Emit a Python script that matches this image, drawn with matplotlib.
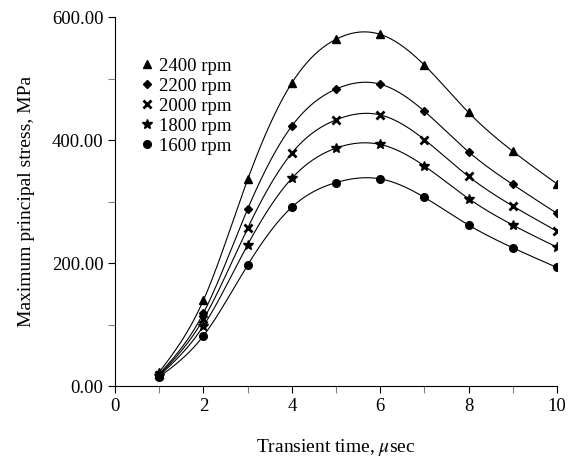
import matplotlib.pyplot as plt
import numpy as np
from matplotlib.lines import Line2D

plt.rcParams['font.family'] = ['Liberation Serif', 'DejaVu Serif']
plt.rcParams['mathtext.fontset'] = 'stix'

# data
t = [1, 2, 3, 4, 5, 6, 7, 8, 9, 10]
s2400 = [23, 140, 336, 493, 564, 572, 522, 445, 382, 329]
s2200 = [20, 119, 288, 423, 483, 491, 447, 381, 328, 281]
s2000 = [18, 109, 257, 379, 433, 441, 401, 341, 293, 252]
s1800 = [17, 98, 230, 338, 387, 393, 358, 305, 262, 226]
s1600 = [15, 82, 197, 291, 331, 337, 307, 262, 225, 193]
labels = ['2400 rpm', '2200 rpm', '2000 rpm', '1800 rpm', '1600 rpm']
markers = ['^', 'D', 'x', '*', 'o']
msizes = [5.5, 4.5, 5.5, 7.5, 5.5]


def natural_spline(x, y, xs):
    # plain natural cubic spline for drawing the smooth line
    x = np.asarray(x, float)
    y = np.asarray(y, float)
    n = len(x)
    h = np.diff(x)
    A = np.zeros((n, n))
    b = np.zeros(n)
    A[0, 0] = A[-1, -1] = 1
    for i in range(1, n - 1):
        A[i, i - 1] = h[i - 1]
        A[i, i] = 2 * (h[i - 1] + h[i])
        A[i, i + 1] = h[i]
        b[i] = 6 * ((y[i + 1] - y[i]) / h[i] - (y[i] - y[i - 1]) / h[i - 1])
    m = np.linalg.solve(A, b)
    k = np.clip(np.searchsorted(x, xs) - 1, 0, n - 2)
    dx = xs - x[k]
    hk = h[k]
    a = (m[k + 1] - m[k]) / (6 * hk)
    c = (y[k + 1] - y[k]) / hk - hk * (2 * m[k] + m[k + 1]) / 6
    return y[k] + c * dx + m[k] / 2 * dx ** 2 + a * dx ** 3


fig = plt.figure(figsize=(5.7, 4.63), dpi=100)
ax = fig.add_axes([0.202, 0.166, 0.775, 0.797])

xs = np.linspace(1, 10, 300)
for ys, mk, ms in zip([s2400, s2200, s2000, s1800, s1600], markers, msizes):
    ax.plot(xs, natural_spline(t, ys, xs), color='black', lw=0.8)
    ax.plot(t, ys, linestyle='none', marker=mk, color='black', ms=ms,
            mew=2 if mk == 'x' else 1)

ax.set_xlim(0, 10)
ax.set_ylim(0, 600)
ax.set_xticks([0, 2, 4, 6, 8, 10])
ax.set_xticks([1, 3, 5, 7, 9], minor=True)
ax.set_yticks([0, 200, 400, 600])
ax.set_yticks([100, 300, 500], minor=True)
ax.set_yticklabels(['0.00', '200.00', '400.00', '600.00'])
ax.tick_params(which='both', direction='out', labelsize=13.5, width=0.8)
ax.tick_params(which='major', length=5)
ax.tick_params(which='minor', length=5, color='gray')
ax.spines['top'].set_visible(False)
ax.spines['right'].set_visible(False)

ax.set_xlabel('Transient time, $\\mu$sec', fontsize=14, labelpad=16)
ax.set_ylabel('Maximum principal stress, MPa', fontsize=14, labelpad=12)

handles = [Line2D([], [], linestyle='none', marker=mk, color='black', ms=ms,
                  mew=2 if mk == 'x' else 1)
           for mk, ms in zip(markers, msizes)]
ax.legend(handles, labels, loc='upper left', bbox_to_anchor=(0.036, 0.915),
          frameon=False, fontsize=13.5, handlelength=0.7, handletextpad=0.3,
          labelspacing=0.15, borderpad=0)

plt.savefig('out.png', dpi=100)
